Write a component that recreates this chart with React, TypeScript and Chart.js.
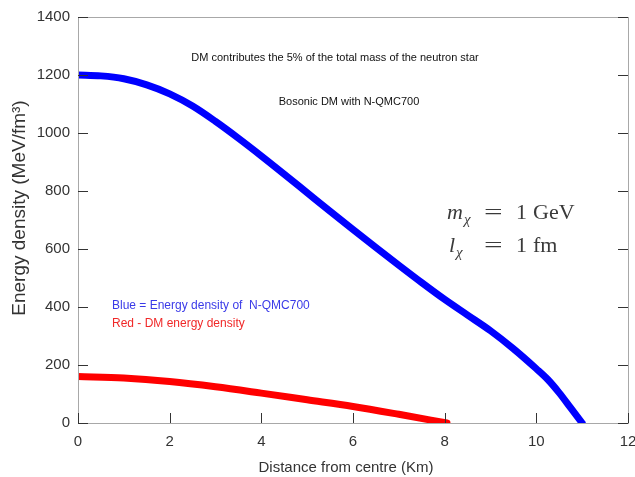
import React, { useEffect, useRef } from 'react';
import { Chart, registerables } from 'chart.js';
Chart.register(...registerables);

// Neutron-star (N-QMC700) energy density, blue
const blueRadius = [0, 0.5, 1, 1.5, 2, 2.5, 3, 3.5, 4, 4.5, 5, 5.5, 6, 6.5, 7, 7.5, 8, 8.5, 9, 9.5, 10, 10.25, 10.5, 10.75, 11];
const blueDensity = [1200, 1197, 1187, 1166, 1135, 1093, 1040, 982, 921, 858, 794, 730, 667, 605, 544, 484, 426, 372, 318, 256, 187, 150, 104, 52, 0];
// DM energy density, red
const redRadius = [0, 1, 2, 3, 4, 5, 6, 7, 8.05];
const redDensity = [160, 155, 143, 125, 103, 80, 57, 30, 0];

const xTickValues = [0, 2, 4, 6, 8, 10, 12];
const yTickValues = [0, 200, 400, 600, 800, 1000, 1200, 1400];

const FONT = '"Liberation Sans", Arial, sans-serif';
const SERIF = '"Liberation Serif", "DejaVu Serif", serif';

const decorPlugin = {
  id: 'decor',
  afterDraw(chart: any) {
    const { ctx, chartArea } = chart;
    const { left, right, top, bottom } = chartArea;
    const xs = chart.scales.x;
    const ys = chart.scales.y;
    ctx.save();
    // frame
    ctx.strokeStyle = '#a8a8a8';
    ctx.lineWidth = 1;
    ctx.strokeRect(Math.round(left) + 0.5, Math.round(top) + 0.5, Math.round(right - left), Math.round(bottom - top));
    // ticks
    ctx.strokeStyle = '#333';
    ctx.beginPath();
    xTickValues.forEach((v) => {
      const px = Math.round(xs.getPixelForValue(v)) + 0.5;
      ctx.moveTo(px, bottom);
      ctx.lineTo(px, bottom - 10);
    });
    yTickValues.forEach((v) => {
      const py = Math.round(ys.getPixelForValue(v)) + 0.5;
      ctx.moveTo(left, py);
      ctx.lineTo(left + 10, py);
      ctx.moveTo(right, py);
      ctx.lineTo(right - 10, py);
    });
    ctx.stroke();

    // axis titles
    ctx.fillStyle = '#333';
    ctx.textAlign = 'center';
    ctx.textBaseline = 'middle';
    ctx.font = `15px ${FONT}`;
    ctx.fillText('Distance from centre (Km)', 346, 468);
    ctx.save();
    ctx.translate(20, 208);
    ctx.rotate(-Math.PI / 2);
    ctx.font = `19px ${FONT}`;
    ctx.fillText('Energy density (MeV/fm³)', 0, 0);
    ctx.restore();

    // annotations
    ctx.fillStyle = '#111';
    ctx.font = `11px ${FONT}`;
    ctx.fillText('DM contributes the 5% of the total mass of the neutron star', 335, 58);
    ctx.fillText('Bosonic DM with N-QMC700', 349, 102);

    ctx.textAlign = 'left';
    ctx.font = `12px ${FONT}`;
    ctx.fillStyle = '#3a3ae8';
    ctx.fillText('Blue = Energy density of  N-QMC700', 112, 306);
    ctx.fillStyle = '#f02828';
    ctx.fillText('Red - DM energy density', 112, 324);

    // math labels
    ctx.fillStyle = '#3a3a3a';
    ctx.textBaseline = 'alphabetic';
    const drawMath = (sym: string, symX: number, value: string, unit: string, y: number) => {
      ctx.font = `italic 22px ${SERIF}`;
      ctx.fillText(sym, symX, y);
      const cx = symX + ctx.measureText(sym).width + 1;
      ctx.font = `italic 15px ${SERIF}`;
      ctx.fillText('χ', cx, y + 5);
      ctx.font = `22px ${SERIF}`;
      ctx.save();
      ctx.translate(484, y);
      ctx.scale(1.5, 1);
      ctx.fillText('=', 0, 0);
      ctx.restore();
      ctx.fillText(value, 516, y);
      ctx.fillText(unit, 533, y);
    };
    drawMath('m', 447, '1', 'GeV', 219);
    drawMath('l', 449, '1', 'fm', 252);
    ctx.restore();
  },
};

export default function App() {
  const ref = useRef<HTMLCanvasElement>(null);
  useEffect(() => {
    document.body.style.margin = '0';
    const canvas = ref.current!;
    const chart = new Chart(canvas, {
      type: 'line',
      data: {
        datasets: [
          {
            data: blueRadius.map((r, i) => ({ x: r, y: blueDensity[i] })),
            borderColor: '#0000ff',
            borderWidth: 7,
            pointRadius: 0,
            cubicInterpolationMode: 'monotone',
            borderCapStyle: 'round',
            fill: false,
          },
          {
            data: redRadius.map((r, i) => ({ x: r, y: redDensity[i] })),
            borderColor: '#ff0000',
            borderWidth: 7,
            pointRadius: 0,
            cubicInterpolationMode: 'monotone',
            borderCapStyle: 'round',
            fill: false,
          },
        ],
      },
      options: {
        animation: false,
        responsive: false,
        layout: { padding: { top: 17, right: 7, left: 0, bottom: 0 } },
        plugins: { legend: { display: false }, tooltip: { enabled: false } },
        scales: {
          x: {
            type: 'linear',
            min: 0,
            max: 12,
            afterBuildTicks: (s: any) => { s.ticks = xTickValues.map((v) => ({ value: v })); },
            afterFit: (s: any) => { s.height = 54; s.paddingLeft = 0; s.paddingRight = 0; },
            ticks: { color: '#333', font: { family: FONT, size: 15 }, padding: 10, maxRotation: 0, callback: (v: any) => String(v) },
            grid: { display: false, drawTicks: false },
            border: { display: false },
          },
          y: {
            type: 'linear',
            min: 0,
            max: 1400,
            afterBuildTicks: (s: any) => { s.ticks = yTickValues.map((v) => ({ value: v })); },
            afterFit: (s: any) => { s.width = 78; s.paddingTop = 0; s.paddingBottom = 0; },
            ticks: { color: '#333', font: { family: FONT, size: 15 }, padding: 8, callback: (v: any) => String(v) },
            grid: { display: false, drawTicks: false },
            border: { display: false },
          },
        },
      },
      plugins: [decorPlugin],
    } as any);
    return () => chart.destroy();
  }, []);
  return <canvas ref={ref} width={635} height={477} style={{ display: 'block' }} />;
}
